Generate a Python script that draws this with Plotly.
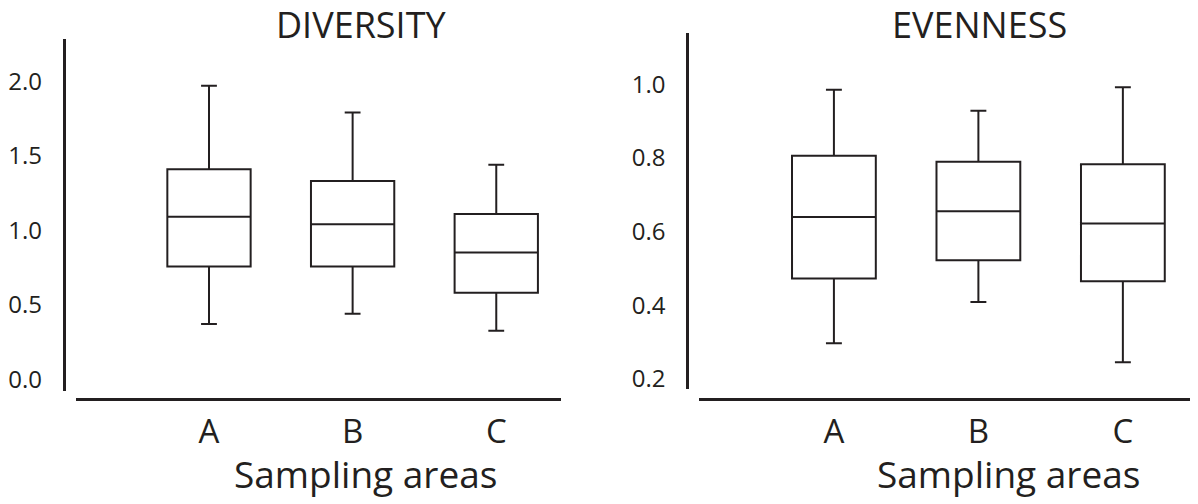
import plotly.graph_objects as go

# page body has an 8px margin; the figure fills the rest of the 1198x504 window
OX, OY = 8, 8
W, H = 1190, 496

categories = ["A", "B", "C"]

# DIVERSITY
div_upper = [1.97, 1.79, 1.44]
div_q3 = [1.41, 1.33, 1.11]
div_median = [1.09, 1.04, 0.85]
div_q1 = [0.757, 0.757, 0.58]
div_lower = [0.37, 0.44, 0.326]
div_ticks = [0.0, 0.5, 1.0, 1.5, 2.0]
div_ticktext = ["0.0", "0.5", "1.0", "1.5", "2.0"]

# EVENNESS
eve_upper = [0.985, 0.928, 0.992]
eve_q3 = [0.806, 0.790, 0.783]
eve_median = [0.640, 0.655, 0.622]
eve_q1 = [0.473, 0.522, 0.465]
eve_lower = [0.297, 0.409, 0.245]
eve_ticks = [0.2, 0.4, 0.6, 0.8, 1.0]
eve_ticktext = ["0.2", "0.4", "0.6", "0.8", "1.0"]

INK = "#231f20"
FONT = "Open Sans"

def px_x(p):
    return (p - OX) / W

def px_y(p):
    return (H - (p - OY)) / H

fig = go.Figure()

fig.add_trace(go.Box(
    x=categories, q1=div_q1, median=div_median, q3=div_q3,
    lowerfence=div_lower, upperfence=div_upper,
    xaxis="x", yaxis="y", width=0.58, whiskerwidth=0.19,
    line=dict(color=INK, width=2), fillcolor="rgba(255,255,255,0)",
    boxpoints=False, showlegend=False, hoverinfo="skip",
))
fig.add_trace(go.Box(
    x=categories, q1=eve_q1, median=eve_median, q3=eve_q3,
    lowerfence=eve_lower, upperfence=eve_upper,
    xaxis="x2", yaxis="y2", width=0.58, whiskerwidth=0.19,
    line=dict(color=INK, width=2), fillcolor="rgba(255,255,255,0)",
    boxpoints=False, showlegend=False, hoverinfo="skip",
))

tickfont = dict(family=FONT, size=24, color=INK)
catfont = dict(family=FONT, size=33, color=INK)

fig.update_layout(
    width=W, height=H,
    margin=dict(l=0, r=0, t=0, b=0),
    paper_bgcolor="white", plot_bgcolor="rgba(0,0,0,0)",
    font=dict(family=FONT, color=INK),
    xaxis=dict(
        domain=[px_x(73), px_x(559)], range=[-0.927, 2.448],
        anchor="free", position=px_y(403),
        showline=True, linewidth=3, linecolor=INK,
        showgrid=False, zeroline=False, ticks="",
        tickfont=catfont, ticklabelstandoff=2,
        type="category", categoryorder="array", categoryarray=categories,
        fixedrange=True,
    ),
    yaxis=dict(
        domain=[px_y(395), px_y(39)], range=[-0.0797, 2.286],
        anchor="free", position=px_x(61),
        showline=True, linewidth=3, linecolor=INK,
        showgrid=False, zeroline=False, ticks="",
        tickvals=div_ticks, ticktext=div_ticktext, tickfont=tickfont,
        ticklabelstandoff=16, fixedrange=True,
    ),
    xaxis2=dict(
        domain=[px_x(698), px_x(1198)], range=[-0.932, 2.52],
        anchor="free", position=px_y(403),
        showline=True, linewidth=3, linecolor=INK,
        showgrid=False, zeroline=False, ticks="",
        tickfont=catfont, ticklabelstandoff=2,
        type="category", categoryorder="array", categoryarray=categories,
        fixedrange=True,
    ),
    yaxis2=dict(
        domain=[px_y(393), px_y(33)], range=[0.1723, 1.140],
        anchor="free", position=px_x(686),
        showline=True, linewidth=3, linecolor=INK,
        showgrid=False, zeroline=False, ticks="",
        tickvals=eve_ticks, ticktext=eve_ticktext, tickfont=tickfont,
        ticklabelstandoff=16, fixedrange=True,
    ),
    annotations=[
        dict(text="DIVERSITY", x=px_x(359), y=px_y(25), xref="paper", yref="paper",
             xanchor="center", yanchor="middle", showarrow=False,
             font=dict(family=FONT, size=36, color=INK)),
        dict(text="EVENNESS", x=px_x(979), y=px_y(25), xref="paper", yref="paper",
             xanchor="center", yanchor="middle", showarrow=False,
             font=dict(family=FONT, size=36, color=INK)),
        dict(text="Sampling areas", x=px_x(363), y=px_y(478), xref="paper", yref="paper",
             xanchor="center", yanchor="middle", showarrow=False,
             font=dict(family=FONT, size=37, color=INK)),
        dict(text="Sampling areas", x=px_x(1008), y=px_y(478), xref="paper", yref="paper",
             xanchor="center", yanchor="middle", showarrow=False,
             font=dict(family=FONT, size=37, color=INK)),
    ],
)

fig.write_html("out.html", config={"displayModeBar": False})
